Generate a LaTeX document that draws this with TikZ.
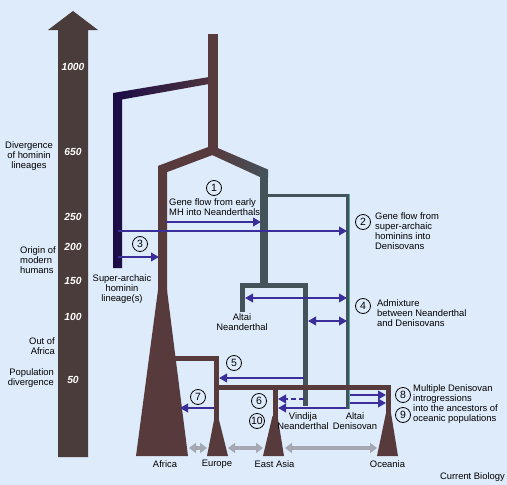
\documentclass[tikz,border=0pt]{standalone}
\usepackage{fontspec}
\setmainfont{Liberation Sans}
\usetikzlibrary{arrows.meta}
\definecolor{bgblue}{RGB}{222,235,250}
\definecolor{timebrown}{RGB}{74,60,58}
\definecolor{mhbrown}{RGB}{87,58,60}
\definecolor{archnavy}{RGB}{25,12,70}
\definecolor{archslate}{RGB}{68,82,90}
\definecolor{denteal}{RGB}{80,170,160}
\definecolor{flowpurple}{RGB}{58,46,155}
\definecolor{spreadgray}{RGB}{165,168,178}

\begin{document}
\begin{tikzpicture}[
    x=1pt, y=-1pt,
    >={Triangle[length=8pt,width=8.5pt]},
    lineage/.style={draw=#1, line join=miter, line cap=butt},
    flow/.style={->, flowpurple, line width=2.8pt},
    flowboth/.style={<->, flowpurple, line width=2.8pt},
    spread/.style={{Triangle[length=7pt,width=10pt]}-{Triangle[length=7pt,width=10pt]},
        spreadgray, line width=4pt},
    num/.style={circle, draw=black, line width=0.8pt, inner sep=0pt,
        minimum size=15pt, font=\fontsize{10.5}{10.5}\selectfont},
    lbl/.style={font=\fontsize{9.4}{10}\selectfont, align=center, inner sep=0pt},
    tick/.style={font=\fontsize{10.3}{10}\selectfont\bfseries\itshape, text=white, inner sep=0pt},
]

% === BACKGROUND ===
\fill[bgblue] (0,0) rectangle (507,485);

% === TIME AXIS ===
\fill[timebrown] (58,457) -- (58,30) -- (48,30) -- (73,11) -- (98,30) -- (88,30) -- (88,457) -- cycle;
\node[tick] (t1000) at (73,67) {1000};
\node[tick] (t650) at (73,152) {650};
\node[tick] (t250) at (73,217) {250};
\node[tick] (t200) at (73,247) {200};
\node[tick] (t150) at (73,281) {150};
\node[tick] (t100) at (73,317) {100};
\node[tick] (t50) at (73,380) {50};

\node[lbl] (divhom) at (29,156) {Divergence\\of hominin\\lineages};
\node[lbl, align=left, anchor=west] (origin) at (20,260.5) {Origin of\\modern\\humans};
\node[lbl, align=right, anchor=east] (ooa) at (55,346) {Out of\\Africa};
\node[lbl, align=right, anchor=east] (popdiv) at (54,378) {Population\\divergence};

% === SUPER-ARCHAIC LINEAGE ===
\shade[left color=archnavy, right color=mhbrown!85!archnavy]
    (113,268) -- (113,93) -- (209,77) -- (209,84) -- (122,99.5) -- (122,268) -- cycle;

% === MAIN TRUNK AND SPLIT ===
\draw[lineage=mhbrown, line width=10pt] (213,34) -- (213,151);
\draw[lineage=mhbrown, line width=9pt] (213,150) -- (162.5,169) -- (162.5,292);
\shade[left color=mhbrown, right color=archslate]
    (213,146) -- (268,169.5) -- (268,177) -- (260,177) -- (211,154.5) -- cycle;
\draw[lineage=archslate, line width=8pt] (264,172) -- (264,287);

% Neanderthals
\draw[lineage=archslate, line width=5pt] (242.5,312) -- (242.5,285) -- (305.5,285) -- (305.5,406);
% Denisovans
\draw[lineage=archslate, line width=3.8pt] (264,195.5) -- (348,195.5) -- (348,409);
\draw[denteal, line width=1.6pt] (349.6,193.6) -- (349.6,409);

% === MODERN HUMAN POPULATIONS ===
\fill[mhbrown] (158,290) -- (167,290) -- (188,456) -- (136,456) -- cycle;
\draw[lineage=mhbrown, line width=5pt] (166,358.5) -- (216.5,358.5) -- (216.5,422);
\draw[lineage=mhbrown, line width=5pt] (216.5,387.5) -- (391,387.5);
\draw[lineage=mhbrown, line width=5pt] (275,387.5) -- (275,420);
\draw[lineage=mhbrown, line width=5pt] (388.5,385) -- (388.5,416);
\fill[mhbrown] (214,420) -- (219,420) -- (228,456) -- (207,456) -- cycle;
\fill[mhbrown] (272.5,416) -- (277.5,416) -- (284,456) -- (263,456) -- cycle;
\fill[mhbrown] (386,413) -- (391,413) -- (398,456) -- (377,456) -- cycle;

% === GENE FLOW ARROWS ===
\coordinate (mhA) at (166,222);   \coordinate (neaA) at (261,222);
\coordinate (supB) at (118,231);  \coordinate (denB) at (347,231);
\coordinate (supC) at (118,257);  \coordinate (afrC) at (159,257);
\coordinate (altD) at (245,298);  \coordinate (denD) at (347,298);
\coordinate (vinE) at (308,321);  \coordinate (denE) at (347,321);
\coordinate (vinF) at (304,378);  \coordinate (eurF) at (219,378);
\coordinate (vinG) at (304,399);  \coordinate (easG) at (278,399);
\coordinate (denH) at (346,408);  \coordinate (easH) at (278,408);
\coordinate (eurI) at (214,408);  \coordinate (afrI) at (180,408);
\coordinate (denJ) at (350,395);  \coordinate (ocnJ) at (386,395);
\coordinate (denK) at (350,403);  \coordinate (ocnK) at (386,403);

\draw[flow] (mhA) -- (neaA);
\draw[flow] (supB) -- (denB);
\draw[flow] (supC) -- (afrC);
\draw[flowboth] (altD) -- (denD);
\draw[flowboth] (vinE) -- (denE);
\draw[flow] (vinF) -- (eurF);
\draw[flow, dash pattern=on 5pt off 3pt] (vinG) -- (easG);
\draw[flow] (denH) -- (easH);
\draw[flow] (eurI) -- (afrI);
\draw[flow] (denJ) -- (ocnJ);
\draw[flow] (denK) -- (ocnK);

% === DISPERSAL (bottom) ===
\coordinate (afrR) at (189,448);  \coordinate (eurL) at (207,448);
\coordinate (eurR) at (228,448);  \coordinate (easL) at (263,448);
\coordinate (easR) at (285,448);  \coordinate (ocnL) at (377,448);
\draw[spread] (afrR) -- (eurL);
\draw[spread] (eurR) -- (easL);
\draw[spread] (easR) -- (ocnL);

% === EVENT LABELS ===
\node[num] (n1) at (214,188) {1};
\node[lbl, align=left, anchor=west] (l1) at (169,207.5) {Gene flow from early\\MH into Neanderthals};
\node[num] (n2) at (363,222) {2};
\node[lbl, align=left, anchor=west] (l2) at (375,231.5) {Gene flow from\\super-archaic\\hominins into\\Denisovans};
\node[num] (n3) at (140,244) {3};
\node[num] (n4) at (363,306) {4};
\node[lbl, align=left, anchor=west] (l4) at (377,313) {Admixture\\between Neanderthal\\and Denisovans};
\node[num] (n5) at (234,363) {5};
\node[num] (n6) at (259,401) {6};
\node[num] (n10) at (257,421) {10};
\node[num] (n7) at (198,397) {7};
\node[num] (n8) at (403,395) {8};
\node[num] (n9) at (403,415) {9};
\node[lbl, align=left, anchor=west] (l8) at (413,404.5) {Multiple Denisovan\\introgressions\\into the ancestors of\\oceanic populations};

% === LINEAGE AND REGION NAMES ===
\node[lbl] (supname) at (122,289) {Super-archaic\\hominin\\lineage(s)};
\node[lbl] (altnea) at (242,322.5) {Altai\\Neanderthal};
\node[lbl] (vinnea) at (303,421) {Vindija\\Neanderthal};
\node[lbl] (altden) at (355,421) {Altai\\Denisovan};
\node[lbl] (africa) at (165,464) {Africa};
\node[lbl] (europe) at (217,464) {Europe};
\node[lbl] (eastasia) at (274.5,464) {East Asia};
\node[lbl] (oceania) at (387.5,464) {Oceania};
\node[lbl, anchor=east] (journal) at (505,477) {Current Biology};

\end{tikzpicture}
\end{document}
